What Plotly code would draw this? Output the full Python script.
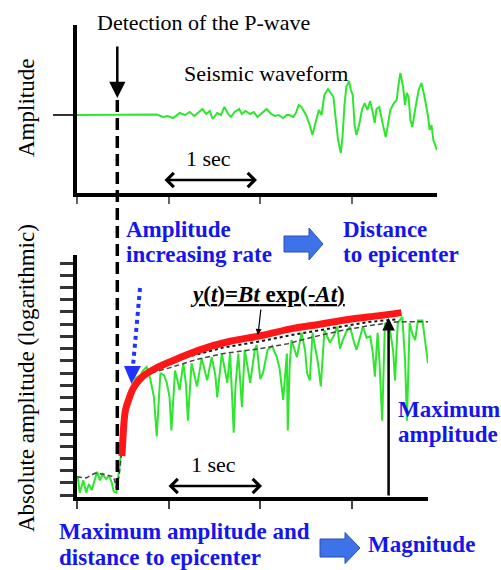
import plotly.graph_objects as go

W, H = 501, 570

# ---------------- data ----------------
# top panel: raw seismic waveform (time in s, amplitude arbitrary units)
top_t = [0.00, 0.80, 0.87, 0.94, 0.99, 1.05, 1.12, 1.18, 1.23, 1.28, 1.32, 1.37, 1.41, 1.45,
         1.48, 1.53, 1.57, 1.61, 1.65, 1.68, 1.72, 1.77, 1.80, 1.84, 1.89, 1.93, 1.97, 2.02,
         2.07, 2.12, 2.16, 2.20, 2.25, 2.29, 2.32, 2.36, 2.39, 2.42, 2.45, 2.50, 2.54, 2.57,
         2.61, 2.64, 2.67, 2.70, 2.74, 2.77, 2.80, 2.82, 2.85, 2.88, 2.90, 2.92, 2.94, 2.97,
         2.99, 3.01, 3.03, 3.05, 3.08, 3.11, 3.14, 3.17, 3.20, 3.23, 3.25, 3.27, 3.30, 3.34,
         3.37, 3.39, 3.42, 3.46, 3.49, 3.51, 3.53, 3.56, 3.58, 3.60, 3.62, 3.64, 3.66, 3.70,
         3.73, 3.76, 3.79, 3.83, 3.85, 3.87, 3.89, 3.93]
top_amp = [0, 0, 0.5, -2, -1, -3, 2, 0, 3, -1, 2, 6, 1, 4,
           -4, 2, 0, 8, 1, -2, 3, 6, 1, 4, 1, 3, -2, 2,
           6, 1, -1, 0, -3, 0, 0, -2, 2, 10, 8, 0, -10, -20,
           -5, 5, 0, 20, 26, 22, 18, 0, -25, -38, -20, 10, 28, 34,
           25, 20, -10, -20, -10, 5, 12, 5, 14, 2, -8, 6, 8, -10,
           -22, -12, 5, 12, 15, 30, 42, 28, 10, 22, 18, -5, -12, 10,
           25, 32, 20, 0, -15, -10, -25, -35]

# bottom panel: absolute amplitude (log units)
bot_t = [0.00, 0.01, 0.03, 0.07, 0.10, 0.13, 0.16, 0.20, 0.22, 0.25, 0.28, 0.32, 0.35, 0.38,
         0.40, 0.43, 0.45, 0.47, 0.49, 0.51, 0.55, 0.58, 0.61, 0.64, 0.69, 0.72, 0.76, 0.80,
         0.84, 0.87, 0.91, 0.95, 0.98, 1.01, 1.03, 1.07, 1.12, 1.16, 1.19, 1.21, 1.25, 1.31,
         1.36, 1.42, 1.47, 1.51, 1.53, 1.58, 1.64, 1.67, 1.69, 1.71, 1.73, 1.76, 1.80, 1.83,
         1.89, 1.94, 1.96, 2.00, 2.03, 2.08, 2.13, 2.18, 2.21, 2.25, 2.29, 2.30, 2.32, 2.34,
         2.40, 2.45, 2.49, 2.51, 2.54, 2.57, 2.63, 2.66, 2.70, 2.76, 2.80, 2.84, 2.87, 2.90,
         2.94, 2.98, 3.02, 3.05, 3.12, 3.16, 3.20, 3.23, 3.25, 3.28, 3.30, 3.33, 3.36, 3.41,
         3.45, 3.47, 3.50, 3.55, 3.58, 3.60, 3.63, 3.66, 3.69, 3.72, 3.77, 3.80, 3.83]
bot_logamp = [1.2, 1.4, 0.2, 1.2, 0.2, 0.9, 0.4, 1.5, 1.9, 1.2, 1.7, 1.3, 1.6, 1.0,
              0.3, 0.2, 1.5, 2.6, 4.0, 5.8, 7.2, 8.3, 9.0, 9.6, 9.8, 10.2, 10.5, 9.5,
              8.0, 4.8, 10.0, 9.8, 9.2, 8.0, 5.3, 10.2, 8.6, 10.8, 9.0, 6.1, 10.8, 8.9,
              11.2, 9.4, 11.3, 9.8, 8.0, 11.6, 9.2, 11.6, 8.5, 5.1, 9.0, 11.6, 7.2, 11.9,
              9.2, 11.9, 12.3, 9.5, 10.0, 11.9, 12.2, 11.3, 10.4, 7.8, 11.6, 5.3, 10.5, 12.7,
              11.3, 13.3, 11.8, 10.0, 9.4, 13.3, 10.8, 8.9, 13.5, 12.5, 13.0, 13.8, 12.0, 12.7,
              13.4, 13.8, 12.6, 11.9, 13.8, 12.9, 13.0, 11.5, 9.7, 13.3, 11.0, 6.1, 14.1, 13.8,
              11.8, 9.4, 14.1, 14.6, 11.0, 6.1, 14.1, 13.2, 12.7, 14.3, 14.3, 12.5, 10.8]

# fitted curve y(t) = Bt exp(-At) (log units)
fit_t = [0.49, 0.50, 0.51, 0.53, 0.57, 0.61, 0.67, 0.74, 0.85, 1.01, 1.34, 1.67, 2.00,
         2.32, 2.65, 2.98, 3.30, 3.54]
fit_logamp = [3.2, 4.5, 5.7, 7.0, 7.95, 8.7, 9.35, 9.85, 10.35, 10.9, 11.9, 12.6, 13.05,
              13.6, 14.0, 14.4, 14.7, 14.95]

# envelopes
env_dash_t = [0.00, 0.10, 0.20, 0.30, 0.40, 0.43, 0.46, 0.50, 0.55, 0.60, 0.68, 0.80, 1.00,
              1.30, 1.60, 2.00, 2.30, 2.60, 2.90, 3.20, 3.50, 3.83]
env_dash_v = [1.5, 1.4, 1.8, 1.7, 1.5, 0.6, 1.6, 4.5, 7.0, 8.6, 9.6, 10.0, 10.4,
              11.1, 11.6, 12.0, 12.4, 13.0, 13.5, 13.9, 14.2, 14.2]
env_dot_t = [0.62, 0.80, 1.20, 1.60, 2.00, 2.40, 2.80, 3.20, 3.50]
env_dot_v = [9.0, 10.2, 11.3, 12.1, 12.6, 13.2, 13.7, 14.2, 14.4]

p_time = 0.44
max_time = 3.40
max_logamp = 14.5
sec_ticks = [0, 1, 2, 3]
log_ticks = list(range(20))

GREEN = "#2ee62e"
RED = "#ff1616"
BLUE_TXT = "#1515ee"
BLUE_FILL = "#3d72e8"
SERIF = "Liberation Serif, Times New Roman, DejaVu Serif, serif"


def px(x):
    return x / W


def py(y):
    return 1 - y / H


fig = go.Figure()
fig.add_trace(go.Scatter(x=top_t, y=top_amp, mode="lines", xaxis="x", yaxis="y",
                         line=dict(color=GREEN, width=2)))
fig.add_trace(go.Scatter(x=bot_t, y=bot_logamp, mode="lines", xaxis="x2", yaxis="y2",
                         line=dict(color=GREEN, width=2)))
fig.add_trace(go.Scatter(x=env_dash_t, y=env_dash_v, mode="lines", xaxis="x2", yaxis="y2",
                         line=dict(color="#444444", width=1.5, dash="5px,3px")))
fig.add_trace(go.Scatter(x=env_dot_t, y=env_dot_v, mode="lines", xaxis="x2", yaxis="y2",
                         line=dict(color="#111111", width=2, dash="dot")))
fig.add_trace(go.Scatter(x=fit_t, y=fit_logamp, mode="lines", xaxis="x2", yaxis="y2",
                         line=dict(color=RED, width=7, shape="spline")))

axis_common = dict(showgrid=False, zeroline=False, showticklabels=False, showline=True,
                   linecolor="black", ticks="outside")

fig.update_layout(
    width=W, height=H, margin=dict(l=0, r=0, t=0, b=0),
    paper_bgcolor="white", plot_bgcolor="white", showlegend=False,
    font=dict(family=SERIF),
    xaxis=dict(domain=[px(77), px(437)], range=[0, 3.93], anchor="y", linewidth=4,
               tickvals=sec_ticks, ticklen=7, tickwidth=1.5, tickcolor="#666", **axis_common),
    yaxis=dict(domain=[py(193), py(25)], range=[-78, 90], anchor="x", linewidth=3.5,
               tickvals=[0], ticklen=20, tickwidth=1.5, tickcolor="#333", **axis_common),
    xaxis2=dict(domain=[px(77), px(428)], range=[0, 3.83], anchor="y2", linewidth=4,
                tickvals=sec_ticks, ticklen=8, tickwidth=2, tickcolor="#444", **axis_common),
    yaxis2=dict(domain=[py(497), py(255)], range=[-0.16, 19.67], anchor="x2", linewidth=3.5,
                tickvals=log_ticks, ticklen=13, tickwidth=2.5, tickcolor="#333", **axis_common),
)

shapes = []
# P-wave detection dashed line
shapes.append(dict(type="line", xref="x", yref="paper", x0=p_time, x1=p_time,
                   y0=py(490), y1=py(97), line=dict(color="black", width=3.5, dash="12px,6px")))
# blue dotted arrow
shapes.append(dict(type="line", xref="paper", yref="paper", x0=px(140), y0=py(288),
                   x1=px(133), y1=py(366), line=dict(color="#2233ff", width=4, dash="dot")))
shapes.append(dict(type="path", xref="paper", yref="paper",
                   path=f"M{px(124)},{py(366)} L{px(141)},{py(366)} L{px(131.5)},{py(384)} Z",
                   fillcolor="#2233ff", line=dict(width=0)))


def block_arrow(x0, x1, xm, yc, hb, hh):
    return dict(type="path", xref="paper", yref="paper",
                path=(f"M{px(x0)},{py(yc - hb)} L{px(xm)},{py(yc - hb)} L{px(xm)},{py(yc - hh)} "
                      f"L{px(x1)},{py(yc)} L{px(xm)},{py(yc + hh)} L{px(xm)},{py(yc + hb)} "
                      f"L{px(x0)},{py(yc + hb)} Z"),
                fillcolor=BLUE_FILL, line=dict(color="#2a4fb0", width=1))


shapes.append(block_arrow(284, 323, 309, 244, 8, 16))
shapes.append(block_arrow(320, 360, 345, 548, 9, 15.5))
fig.update_layout(shapes=shapes)

ann = []


def txt(text, x, y, size=22, color="black", bold=False, anchor="left", angle=0):
    t = f"<b>{text}</b>" if bold else text
    ann.append(dict(text=t, x=px(x), y=py(y), xref="paper", yref="paper", showarrow=False,
                    xanchor=anchor, yanchor="middle", textangle=angle, borderpad=0,
                    font=dict(family=SERIF, size=size, color=color)))


txt("Detection of the P-wave", 96, 22.5)
txt("Seismic waveform", 183, 74)
txt("1 sec", 185, 158.5)
txt("1 sec", 190, 464.5)
txt("Amplitude", 26, 108, size=23, anchor="center", angle=-90)
txt("Absolute amplitude (logarithmic)", 26, 378, size=23, anchor="center", angle=-90)
txt("Amplitude", 125, 229.5, size=23, color=BLUE_TXT, bold=True)
txt("increasing rate", 125, 254, size=23, color=BLUE_TXT, bold=True)
txt("Distance", 342, 229.5, size=23, color=BLUE_TXT, bold=True)
txt("to epicenter", 342, 254, size=23, color=BLUE_TXT, bold=True)
txt("Maximum", 397, 409, size=23, color=BLUE_TXT, bold=True)
txt("amplitude", 397, 434, size=23, color=BLUE_TXT, bold=True)
txt("Maximum amplitude and", 58, 531, size=23, color=BLUE_TXT, bold=True)
txt("distance to epicenter", 58, 557, size=23, color=BLUE_TXT, bold=True)
txt("Magnitude", 367, 544.5, size=23, color=BLUE_TXT, bold=True)
txt("<u><b><i>y</i>(<i>t</i>)=<i>Bt</i> exp(-<i>At</i>)</b></u>", 189, 294.5, size=23)

# arrows
ann.append(dict(x=px(117.3), y=py(98), xref="paper", yref="paper", ax=0, ay=-53, text="",
                showarrow=True, arrowhead=2, arrowsize=1.3, arrowwidth=2.5, arrowcolor="black"))
ann.append(dict(x=px(258), y=py(335), xref="paper", yref="paper", ax=3, ay=-27, text="",
                showarrow=True, arrowhead=2, arrowsize=1, arrowwidth=1.2, arrowcolor="black"))
ann.append(dict(x=px(257), y=py(180), xref="paper", yref="paper", ax=-94, ay=0, text="",
                showarrow=True, arrowhead=4, arrowside="end+start", arrowsize=1.1,
                arrowwidth=2.5, arrowcolor="black"))
ann.append(dict(x=px(262), y=py(486), xref="paper", yref="paper", ax=-95, ay=0, text="",
                showarrow=True, arrowhead=4, arrowside="end+start", arrowsize=1.1,
                arrowwidth=2.5, arrowcolor="black"))
ann.append(dict(x=max_time, y=max_logamp, xref="x2", yref="y2", axref="x2", ayref="y2",
                ax=max_time, ay=-0.16, text="", showarrow=True, arrowhead=2, arrowsize=1,
                arrowwidth=2.5, arrowcolor="black"))
fig.update_layout(annotations=ann)

fig.write_html("out.html", config={"displayModeBar": False},
               post_script="document.body.style.margin='0';document.body.style.overflow='hidden';")
